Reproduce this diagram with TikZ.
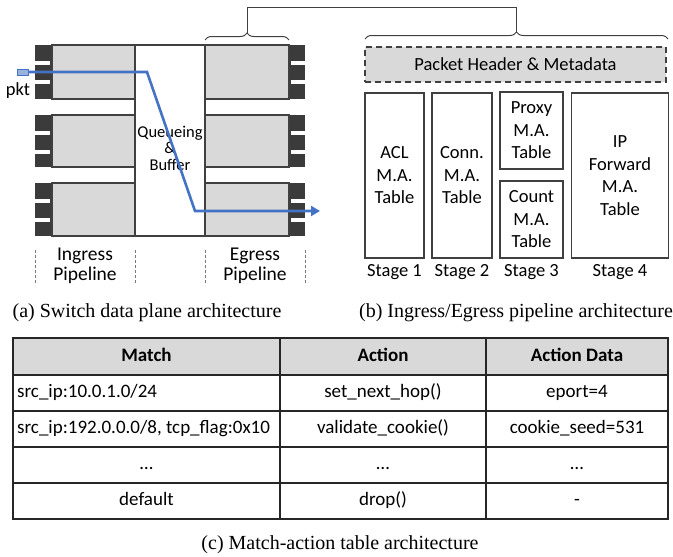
\documentclass[tikz,border=0pt]{standalone}
\usepackage{fontspec}
\setmainfont{Carlito}
\newfontfamily\capfont{Liberation Serif}
\usetikzlibrary{arrows.meta, positioning, decorations.pathreplacing}

\definecolor{boxgray}{HTML}{D9D9D9}
\definecolor{linegray}{HTML}{404040}
\definecolor{portdark}{HTML}{3B3B3B}
\definecolor{pktblue}{HTML}{4472C4}

\tikzset{
  lbl/.style={font=\fontsize{18.5}{22}\selectfont, align=center, inner sep=0pt},
  pipebox/.style={draw=linegray, fill=boxgray, line width=1.6pt, inner sep=0pt},
  matbox/.style={draw=linegray, line width=1.8pt, inner sep=0pt, align=center,
    font=\fontsize{18.5}{22.5}\selectfont},
  cell/.style={font=\fontsize{19}{22}\selectfont, inner sep=0pt, text height=13pt, text depth=4pt},
  hcell/.style={cell, font=\fontsize{19}{22}\selectfont\bfseries},
  capt/.style={font=\capfont\fontsize{20}{24}\selectfont, inner sep=0pt, text height=13pt, text depth=4pt},
  sepline/.style={linegray!70, dash pattern=on 3pt off 2pt, line width=0.9pt},
  bracket/.style={draw=linegray, line width=1pt},
  tabline/.style={draw=black!85, line width=1.5pt},
}

\begin{document}
\begin{tikzpicture}[x=1pt, y=-1pt]
\useasboundingbox (0,0) rectangle (673,557);

% ports
\foreach \t/\b in {45/99, 115/167, 183/236} {
  \fill[portdark] (35,\t) rectangle (53,\b);
  \fill[white] (35,\t+16) rectangle (50,\t+20);
  \fill[white] (35,\t+35) rectangle (50,\t+39);
  \fill[portdark] (288,\t) rectangle (305,\b);
  \fill[white] (291,\t+16) rectangle (305,\t+20);
  \fill[white] (291,\t+35) rectangle (305,\t+39);
}

% switch data plane
\node[draw=linegray, line width=1.6pt, fill=white, minimum width=70pt, minimum height=191pt, inner sep=0pt] (queue) at (170,140.5) {};
\node[pipebox, minimum width=83pt, minimum height=54pt] (ing1) at (93.5,72) {};
\node[pipebox, minimum width=83pt, minimum height=52pt] (ing2) at (93.5,141) {};
\node[pipebox, minimum width=83pt, minimum height=53pt] (ing3) at (93.5,209.5) {};
\node[pipebox, minimum width=84pt, minimum height=54pt] (egr1) at (247,72) {};
\node[pipebox, minimum width=84pt, minimum height=52pt] (egr2) at (247,141) {};
\node[pipebox, minimum width=84pt, minimum height=53pt] (egr3) at (247,209.5) {};

\node[lbl, font=\fontsize{16.5}{16.5}\selectfont] (qtext) at (170,148) {Queueing\\\&\\Buffer};

% packet path
\node[draw=pktblue, fill=pktblue!55, line width=1pt, minimum width=11pt, minimum height=6pt, inner sep=0pt] (pkt) at (22.5,72) {};
\node[lbl] (pktlbl) at (18,91) {pkt};
\coordinate (bend1) at (147,72);
\coordinate (bend2) at (195,211);
\coordinate (pktout) at (320,211);
\draw[pktblue, line width=2.6pt, -{Triangle[length=9pt, width=10pt]}] (pkt.east) -- (bend1) -- (bend2) -- (pktout);

% pipeline labels
\foreach \x in {35,135,205,305}
  \draw[sepline] (\x,250) -- (\x,284);
\node[lbl, font=\fontsize{19.5}{19.5}\selectfont] (inglbl) at (85,266) {Ingress\\Pipeline};
\node[lbl, font=\fontsize{19.5}{19.5}\selectfont] (egrlbl) at (255,266) {Egress\\Pipeline};

% braces
\draw[bracket, decorate, decoration={brace, amplitude=7pt}] (205,40) -- (289,40);
\draw[bracket, decorate, decoration={brace, amplitude=7pt}] (365,39) -- (668,39);
\coordinate (tipL) at (247,33);
\coordinate (topL) at (247,7);
\coordinate (topR) at (516.5,7);
\coordinate (tipR) at (516.5,32);
\draw[bracket] (tipL) -- (topL) -- (topR) -- (tipR);

% ingress/egress pipeline
\node[lbl, draw=linegray, dash pattern=on 6pt off 4pt, fill=boxgray, line width=1.6pt,
  minimum width=301pt, minimum height=35pt] (hdr) at (515.5,64.5) {Packet Header \& Metadata};
\node[matbox, minimum width=59pt, minimum height=165pt] (acl) at (394.5,175.5) {ACL\\M.A.\\Table};
\node[matbox, minimum width=60pt, minimum height=165pt] (conn) at (462,175.5) {Conn.\\M.A.\\Table};
\node[matbox, minimum width=63pt, minimum height=77pt] (proxy) at (531.5,130.5) {Proxy\\M.A.\\Table};
\node[matbox, minimum width=63pt, minimum height=77pt] (count) at (531.5,219.5) {Count\\M.A.\\Table};
\node[matbox, minimum width=97pt, minimum height=165pt] (ipfwd) at (620,175.5) {IP\\Forward\\M.A.\\Table};

\node[lbl, below=5pt of acl] (st1) {Stage 1};
\node[lbl, below=5pt of conn] (st2) {Stage 2};
\node[lbl, below=5pt of count] (st3) {Stage 3};
\node[lbl, below=5pt of ipfwd] (st4) {Stage 4};

% match-action table
\fill[boxgray] (13,338) rectangle (668,375);
\foreach \y in {375,411,447,483}
  \draw[tabline] (13,\y) -- (668,\y);
\foreach \x in {280,486}
  \draw[tabline] (\x,338) -- (\x,519);
\draw[tabline] (13,338) rectangle (668,519);

\node[hcell] (hmatch) at (146.5,356.5) {Match};
\node[hcell] (haction) at (383,356.5) {Action};
\node[hcell] (hdata) at (577,356.5) {Action Data};
\node[cell, anchor=west] (m1) at (17,393) {src\_ip:10.0.1.0/24};
\node[cell] (a1) at (383,393) {set\_next\_hop()};
\node[cell] (d1) at (577,393) {eport=4};
\node[cell, anchor=west] (m2) at (17,429) {src\_ip:192.0.0.0/8, tcp\_flag:0x10};
\node[cell] (a2) at (383,429) {validate\_cookie()};
\node[cell] (d2) at (577,429) {cookie\_seed=531};
\node[cell] (m3) at (146.5,465) {…};
\node[cell] (a3) at (383,465) {…};
\node[cell] (d3) at (577,465) {…};
\node[cell] (m4) at (146.5,501) {default};
\node[cell] (a4) at (383,501) {drop()};
\node[cell] (d4) at (577,501) {-};

% captions
\node[capt] (capa) at (147,313) {(a) Switch data plane architecture};
\node[capt] (capb) at (516,313) {(b) Ingress/Egress pipeline architecture};
\node[capt] (capc) at (340,545) {(c) Match-action table architecture};

\end{tikzpicture}
\end{document}
